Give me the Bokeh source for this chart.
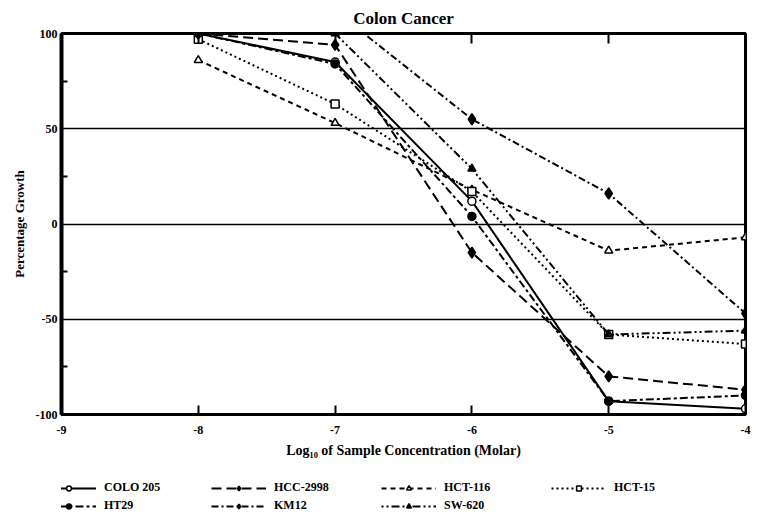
from bokeh.plotting import figure
from bokeh.layouts import column
from bokeh.models import FixedTicker, LinearAxis, Legend, LegendItem, Range1d
from bokeh.embed import file_html
from bokeh.resources import INLINE

# ---- data ----
log_conc = [-8, -7, -6, -5, -4]
colo_205 = [100, 85, 12, -93, -97]
ht29 = [100, 84, 4, -93, -90]
hcc_2998 = [100, 94, -15, -80, -87]
km12 = [100, 112, 55, 16, -47]
hct_116 = [86, 53, 18, -14, -7]
sw_620 = [100, 100, 29, -58, -56]
hct_15 = [97, 63, 17, -58, -63]

x_ticks = [-9, -8, -7, -6, -5, -4]
y_ticks = [-100, -50, 0, 50, 100]
y_minor = [-75, -25, 25, 75]
grid_levels = [-50, 0, 50]

FONT = "Liberation Serif"

p = figure(frame_width=684, frame_height=381,
           x_range=Range1d(-9, -4), y_range=Range1d(-100, 100),
           output_backend="svg", toolbar_location=None,
           min_border_left=61, min_border_right=14, min_border_top=33,
           min_border_bottom=4, title="Colon Cancer")

p.title.align = "center"
p.title.offset = 9
p.title.text_font = FONT
p.title.text_font_size = "17px"
p.title.text_font_style = "bold"
p.title.text_color = "black"
p.title.standoff = 12

# axes
xa = p.xaxis[0]
xa.ticker = FixedTicker(ticks=x_ticks)
xa.major_label_overrides = {t: str(t) for t in x_ticks}
xa.major_tick_in = 9
xa.major_tick_out = 0
xa.minor_tick_line_color = None
xa.axis_line_width = 3
xa.axis_line_color = "black"
xa.major_tick_line_width = 2
xa.major_tick_line_color = "black"
xa.major_label_text_font = FONT
xa.major_label_text_font_style = "bold"
xa.major_label_text_font_size = "12px"
xa.major_label_text_color = "black"
xa.major_label_standoff = 11
xa.axis_label = "Log\u2081\u2080 of Sample Concentration (Molar)"
xa.axis_label_text_font = FONT
xa.axis_label_text_font_style = "bold"
xa.axis_label_text_font_size = "14px"
xa.axis_label_text_color = "black"
xa.axis_label_standoff = 6

ya = p.yaxis[0]
ya.ticker = FixedTicker(ticks=y_ticks, minor_ticks=y_minor)
ya.major_label_overrides = {t: str(t) for t in y_ticks}
ya.major_tick_in = 0
ya.major_tick_out = 0
ya.minor_tick_in = 6
ya.minor_tick_out = 0
ya.minor_tick_line_width = 2
ya.minor_tick_line_color = "black"
ya.axis_line_width = 4
ya.axis_line_color = "black"
ya.major_label_text_font = FONT
ya.major_label_text_font_style = "bold"
ya.major_label_text_font_size = "12px"
ya.major_label_text_color = "black"
ya.major_label_standoff = 4
ya.axis_label = "Percentage Growth"
ya.axis_label_text_font = FONT
ya.axis_label_text_font_style = "bold"
ya.axis_label_text_font_size = "13px"
ya.axis_label_text_color = "black"
ya.axis_label_standoff = 6

# top frame edge: inward ticks only, no labels
top = LinearAxis(ticker=FixedTicker(ticks=x_ticks[1:-1]))
top.major_tick_in = 10
top.major_tick_out = 0
top.minor_tick_line_color = None
top.major_tick_line_width = 2
top.axis_line_width = 2
top.major_label_text_color = None
top.major_label_text_font_size = "1px"
top.major_label_standoff = 0
p.add_layout(top, "above")

p.outline_line_color = "black"
p.outline_line_width = 3
p.outline_line_alpha = 1

p.xgrid.visible = False
p.ygrid.ticker = FixedTicker(ticks=grid_levels)
p.ygrid.grid_line_color = "black"
p.ygrid.grid_line_width = 1.5

# series
series = [
    ("COLO 205", colo_205, "solid", "circle", "white"),
    ("HCC-2998", hcc_2998, "10 5", "diamond", "black"),
    ("HCT-116", hct_116, "5 4", "triangle", "white"),
    ("HCT-15", hct_15, "2 3", "square", "white"),
    ("HT29", ht29, "8 3 3 3", "circle", "black"),
    ("KM12", km12, "7 3 2 3", "diamond", "black"),
    ("SW-620", sw_620, "2 3 2 3 8 3", "triangle", "black"),
]

# legend panel: a separate, axis-less figure; its key renderers hold one
# dummy point outside its range so only the legend keys show
lg = figure(width=759, height=56, x_range=Range1d(0, 1), y_range=Range1d(0, 1),
            output_backend="svg", toolbar_location=None,
            x_axis_location=None, y_axis_location=None,
            min_border=0, min_border_left=0, min_border_right=0,
            min_border_top=0, min_border_bottom=0, outline_line_color=None)
lg.xgrid.visible = False
lg.ygrid.visible = False
dummy = [-5]

items = []
for name, ys, dash, marker, fill in series:
    sz = 11 if marker == "diamond" else 8
    p.line(log_conc, ys, line_color="black", line_width=2, line_dash=dash)
    p.scatter(log_conc, ys, marker=marker, size=sz, line_color="black",
              line_width=1.5, fill_color=fill)
    kl = lg.line(dummy, dummy, line_color="black", line_width=1.8, line_dash=dash)
    ks = lg.scatter(dummy, dummy, marker=marker, size=sz, line_color="black",
                    line_width=1.5, fill_color=fill)
    items.append(LegendItem(label=name, renderers=[kl, ks]))

legend = Legend(items=items, orientation="horizontal", ncols=4,
                location=(-20, 3))
legend.label_text_font = FONT
legend.label_text_font_style = "bold"
legend.label_text_font_size = "12px"
legend.label_text_color = "black"
legend.glyph_width = 55
legend.glyph_height = 12
legend.label_standoff = 8
legend.label_width = 104
legend.label_height = 12
legend.spacing = 3
legend.padding = 2
legend.margin = 0
legend.border_line_color = None
legend.background_fill_alpha = 0
lg.add_layout(legend, "center")

open("out.html", "w").write(file_html(column(p, lg, spacing=0), INLINE))
